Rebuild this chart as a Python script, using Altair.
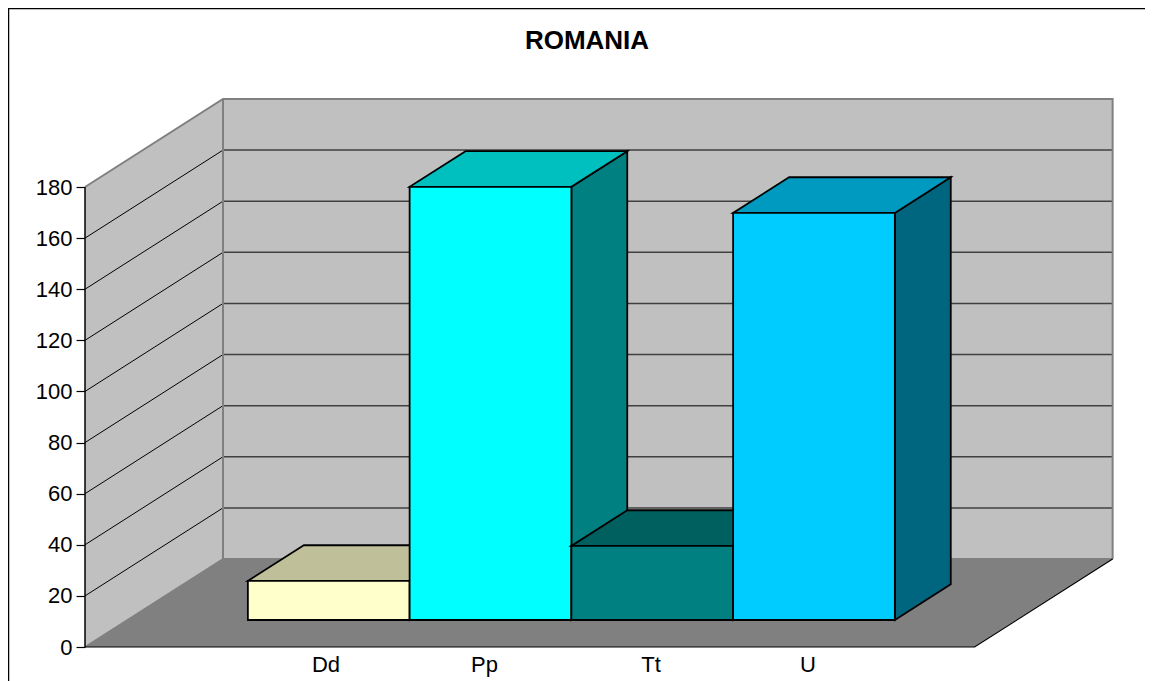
import altair as alt
import pandas as pd

# ---- chart values
categories = ["Dd", "Pp", "Tt", "U"]
values = [15.3, 169.5, 29.0, 159.3]
front_colors = ["#FFFFCC", "#00FFFF", "#008080", "#00CCFF"]
top_colors = ["#BFBF99", "#00BFBF", "#006060", "#0099BF"]
side_colors = ["#808060", "#008080", "#006060", "#006680"]
y_ticks = [0, 20, 40, 60, 80, 100, 120, 140, 160, 180]
label_slots = [1.49, 2.47, 3.50, 4.47]

FONT = "Liberation Sans"

# ---- model space: x in category slots, y in value units, depth 0..1
SLOT_PX = 161.75
UNIT_PX = 460 / 180
W, H = 1028, 548
X_DOMAIN = [0, W / SLOT_PX]
Y_DOMAIN = [0, H / UNIT_PX]
FLOOR_W = 5.5
Y_TOP = 180
BAR_START = 0.745
D_FRONT, D_BACK = 0.307, 0.712
DX = 138 / SLOT_PX    # x shift for full depth
DY = 88 / UNIT_PX     # y shift for full depth

xs = alt.Scale(domain=X_DOMAIN, nice=False, zero=False)
ys = alt.Scale(domain=Y_DOMAIN, nice=False, zero=False)

YAX = alt.Axis(
    title=None,
    values=y_ticks,
    grid=False,
    domain=False,
    tickSize=9,
    tickColor="#000000",
    tickWidth=1.2,
    labelFont=FONT,
    labelFontSize=22,
    labelColor="#000000",
    labelPadding=4,
)


def P(x, v, d):
    return x + d * DX, v + d * DY


def vert_area(a, b, fill, stroke=None, sw=0):
    """Vertical parallelogram; each edge is (x, v_low, v_high, depth)."""
    rows = []
    for x, lo, hi, d in (a, b):
        X, Y = P(x, lo, d)
        _, Y2 = P(x, hi, d)
        rows.append({"x": X, "y": Y, "y2": Y2})
    kw = dict(orient="vertical", fill=fill, opacity=1)
    if stroke:
        kw.update(stroke=stroke, strokeWidth=sw, strokeJoin="miter")
    return alt.Chart(pd.DataFrame(rows)).mark_area(**kw).encode(
        x=alt.X("x:Q", scale=xs, axis=None),
        y=alt.Y("y:Q", scale=ys, axis=YAX),
        y2="y2:Q",
    )


def horiz_area(x0, x1, v, d0, d1, fill, stroke=None, sw=0):
    rows = []
    for d in (d0, d1):
        X, Y = P(x0, v, d)
        X2, _ = P(x1, v, d)
        rows.append({"x": X, "x2": X2, "y": Y})
    kw = dict(orient="horizontal", fill=fill, opacity=1)
    if stroke:
        kw.update(stroke=stroke, strokeWidth=sw, strokeJoin="miter")
    return alt.Chart(pd.DataFrame(rows)).mark_area(**kw).encode(
        x=alt.X("x:Q", scale=xs, axis=None),
        x2="x2:Q",
        y=alt.Y("y:Q", scale=ys, axis=YAX),
    )


def line(points, color, sw):
    rows = [{"x": p[0], "y": p[1], "o": i} for i, p in enumerate(points)]
    return alt.Chart(pd.DataFrame(rows)).mark_line(color=color, strokeWidth=sw).encode(
        x=alt.X("x:Q", scale=xs, axis=None),
        y=alt.Y("y:Q", scale=ys, axis=YAX),
        order="o:Q",
    )


layers = []

# frame (left and top edges of the chart area)
fx0 = -76.5 / SLOT_PX
fy_top = (H + 90.5) / UNIT_PX
fy_bot = -34 / UNIT_PX
fx1 = (W + 32) / SLOT_PX
layers.append(line([(fx0, fy_bot), (fx0, fy_top), (fx1, fy_top)], "#000000", 1.5))

# left wall, back wall, floor
layers.append(vert_area((0, 0, Y_TOP, 0), (0, 0, Y_TOP, 1), "#C0C0C0"))
layers.append(vert_area((0, 0, Y_TOP, 1), (FLOOR_W, 0, Y_TOP, 1), "#C0C0C0"))
layers.append(horiz_area(0, FLOOR_W, 0, 0, 1, "#808080"))

# grid lines
for t in y_ticks[1:-1]:
    layers.append(line([P(0, t, 0), P(0, t, 1)], "#000000", 1))
    layers.append(line([P(0, t, 1), P(FLOOR_W, t, 1)], "#404040", 1.5))

# wall outlines
grey = "#808080"
layers.append(line([P(0, Y_TOP, 0), P(0, Y_TOP, 1), P(FLOOR_W, Y_TOP, 1), P(FLOOR_W, 0, 1)], grey, 2))
layers.append(line([P(0, Y_TOP, 1), P(0, 0, 1), P(FLOOR_W, 0, 1)], grey, 2))
layers.append(line([P(0, 0, 0), P(0, 0, 1)], grey, 1.5))
# y axis line and floor front / right edges
layers.append(line([P(0, 0, 0), P(0, Y_TOP, 0)], "#000000", 1.5))
layers.append(line([P(0, 0, 0), P(FLOOR_W, 0, 0), P(FLOOR_W, 0, 1)], "#000000", 1.2))

# bars, left to right
BLK = "#000000"
for i, v in enumerate(values):
    x0 = BAR_START + i
    x1 = x0 + 1
    layers.append(vert_area((x1, 0, v, D_FRONT), (x1, 0, v, D_BACK), side_colors[i], BLK, 1.8))
    layers.append(horiz_area(x0, x1, v, D_FRONT, D_BACK, top_colors[i], BLK, 1.8))
    layers.append(vert_area((x0, 0, v, D_FRONT), (x1, 0, v, D_FRONT), front_colors[i], BLK, 1.8))

# category labels
label_df = pd.DataFrame({"x": label_slots, "y": [-25 / UNIT_PX] * 4, "t": categories})
layers.append(
    alt.Chart(label_df)
    .mark_text(font=FONT, fontSize=22, color="#000000", align="center", baseline="alphabetic")
    .encode(
        x=alt.X("x:Q", scale=xs, axis=None),
        y=alt.Y("y:Q", scale=ys, axis=YAX),
        text="t:N",
    )
)

chart = (
    alt.layer(*layers)
    .properties(
        width=W,
        height=H,
        padding={"left": 77, "top": 91, "right": 32, "bottom": 34},
        autosize=alt.AutoSizeParams(type="none"),
        title=alt.Title(
            "ROMANIA",
            font=FONT,
            fontSize=26,
            fontWeight="bold",
            color="#000000",
            anchor="middle",
            frame="group",
            baseline="alphabetic",
            offset=-69,
            dx=-12,
        ),
        background="#FFFFFF",
    )
    .configure_view(stroke=None)
)

chart.save("out.html", embed_options={"renderer": "svg", "actions": False})
